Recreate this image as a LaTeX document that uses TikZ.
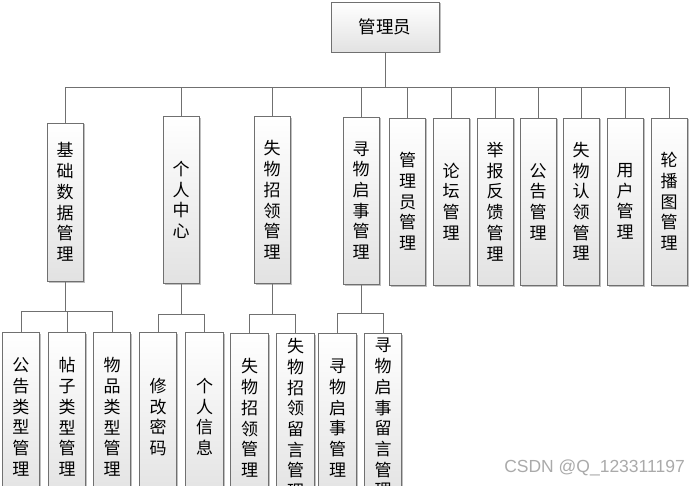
\documentclass[tikz,border=0pt]{standalone}
\usepackage{fontspec}
\setmainfont{Noto Sans CJK SC}
\newfontfamily\markfont{Liberation Sans}
\usepackage{xcolor}
\usetikzlibrary{shadows}
\definecolor{boxline}{RGB}{112,112,112}
\definecolor{boxshade}{RGB}{226,226,226}
\definecolor{markgray}{RGB}{170,170,170}
\tikzset{
  mbox/.style={draw=boxline, line width=0.9pt, top color=white, bottom color=boxshade,
    inner sep=0pt, align=center, font=\fontsize{17}{20.7}\selectfont,
    drop shadow={shadow xshift=1.5pt, shadow yshift=-1.5pt, opacity=0.25, fill=black}},
  vbox/.style={mbox, minimum width=36pt, minimum height=167pt},
  lbox/.style={mbox, minimum width=37.5pt, minimum height=170pt},
  link/.style={draw=boxline, line width=0.9pt},
}

\begin{document}
\begin{tikzpicture}[x=1pt,y=-1pt]
        \useasboundingbox (0,0) rectangle (693,486);
        \clip (0,0) rectangle (693,486);
        \node[mbox,minimum width=108pt,minimum height=50pt,font=\fontsize{17.5}{20}\selectfont] (root) at (385,27) {管理员};
        % first level
        \node[vbox,minimum height=158pt] (J) at (65,202) {基\\础\\数\\据\\管\\理};
        \node[vbox] (G) at (181,200) {个\\人\\中\\心};
        \node[vbox] (S) at (272,200) {失\\物\\招\\领\\管\\理};
        \node[vbox] (X) at (361,200.5) {寻\\物\\启\\事\\管\\理};
        \node[vbox] (Y) at (407.5,201.5) {管\\理\\员\\管\\理};
        \node[vbox] (L) at (451,201.5) {论\\坛\\管\\理};
        \node[vbox] (F) at (495,201.5) {举\\报\\反\\馈\\管\\理};
        \node[vbox] (N) at (538,201.5) {公\\告\\管\\理};
        \node[vbox] (R) at (581,201.5) {失\\物\\认\\领\\管\\理};
        \node[vbox] (U) at (625,201.5) {用\\户\\管\\理};
        \node[vbox] (P) at (669,201.5) {轮\\播\\图\\管\\理};
        % second level
        \node[lbox] (J1) at (21,417) {公\\告\\类\\型\\管\\理};
        \node[lbox] (J2) at (67,417) {帖\\子\\类\\型\\管\\理};
        \node[lbox] (J3) at (112,417) {物\\品\\类\\型\\管\\理};
        \node[lbox] (G1) at (158,417) {修\\改\\密\\码};
        \node[lbox] (G2) at (204.5,417) {个\\人\\信\\息};
        \node[lbox] (S1) at (249.5,418) {失\\物\\招\\领\\管\\理};
        \node[lbox,text depth=0pt] (S2) at (295.5,418) {失\\物\\招\\领\\留\\言\\管\\理};
        \node[lbox] (X1) at (337.5,418) {寻\\物\\启\\事\\管\\理};
        \node[lbox] (X2) at (383,418) {寻\\物\\启\\事\\留\\言\\管\\理};
        % links
        \foreach \c in {J,G,S,X,Y,L,F,N,R,U,P}
          \draw[link] (root.south) -- ++(0,35) -| (\c.north);
        \foreach \c in {J1,J2,J3}
          \draw[link] (J.south) -- ++(0,30) -| (\c.north);
        \foreach \c in {G1,G2}
          \draw[link] (G.south) -- ++(0,30) -| (\c.north);
        \foreach \c in {S1,S2}
          \draw[link] (S.south) -- ++(0,30) -| (\c.north);
        \foreach \c in {X1,X2}
          \draw[link] (X.south) -- ++(0,29) -| (\c.north);
        \node[font=\markfont\fontsize{17.5}{19}\selectfont,text=markgray,anchor=east,inner sep=0pt] (mark) at (685,468) {CSDN @Q\_123311197};
\end{tikzpicture}
\end{document}
